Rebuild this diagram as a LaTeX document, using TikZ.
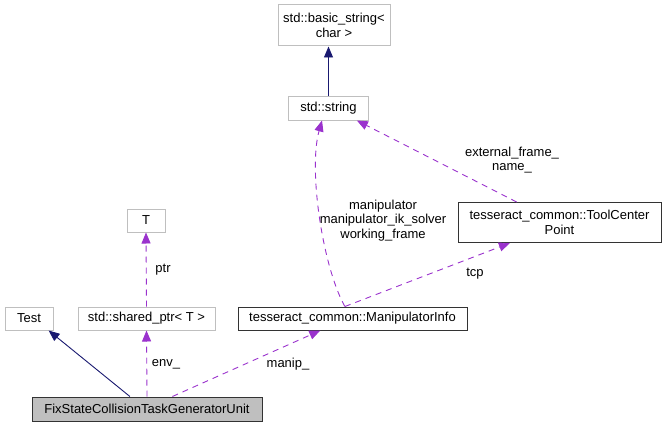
\documentclass[tikz,border=0pt]{standalone}
\usepackage{fontspec}
\setmainfont{Liberation Sans}
\usetikzlibrary{arrows.meta,calc}
\definecolor{edgenavy}{HTML}{191970}
\definecolor{edgeorchid}{HTML}{9A32CD}
\definecolor{boxgray}{HTML}{BFBFBF}
\tikzset{
  % class boxes, grey border when undocumented
  cls/.style  = {rectangle, draw=boxgray, line width=1pt, fill=white, align=center,
                 inner sep=0pt, font=\fontsize{13}{14.5}\selectfont},
  doc/.style  = {cls, draw=black!80},
  self/.style = {cls, draw=black!80, fill=boxgray},
  inh/.style  = {-{Triangle[length=11pt,width=9pt]}, edgenavy, line width=0.9pt},
  use/.style  = {-{Triangle[length=11pt,width=9pt]}, edgeorchid, line width=0.9pt,
                 dash pattern=on 6pt off 5pt},
  lbl/.style  = {font=\fontsize{13}{14.5}\selectfont, align=center, inner sep=0pt},
}
\begin{document}
\begin{tikzpicture}[x=1pt,y=1pt]
\useasboundingbox (0,0) rectangle (667,-428);
% nodes
\node[cls, minimum width=112, minimum height=41] (bstr) at (334,-25.5) {std::basic\_string<\\char >};
\node[cls, minimum width=80, minimum height=23] (str) at (328.5,-108.5) {std::string};
\node[cls, minimum width=38, minimum height=23] (T) at (146,-220.5) {T};
\node[cls, minimum width=48, minimum height=23] (test) at (29,-318.5) {Test};
\node[cls, minimum width=137, minimum height=23] (sptr) at (146.5,-318.5) {std::shared\_ptr< T >};
\node[doc, minimum width=229, minimum height=23] (minfo) at (352.5,-318.5) {tesseract\_common::ManipulatorInfo};
\node[doc, minimum width=203, minimum height=40] (tcp) at (559.5,-222.5) {tesseract\_common::ToolCenter\\Point};
\node[self, minimum width=230, minimum height=24] (fix) at (147,-409) {FixStateCollisionTaskGeneratorUnit};
% inheritance
\draw[inh] (str.north) -- (str.north |- bstr.south);
\draw[inh] ($(fix.north west)!0.426!(fix.north east)$) -- ($(test.south west)!0.9!(test.south east)$);
% usage
\draw[use] (sptr.north) -- (T.south);
\draw[use] (fix.north) -- (sptr.south);
\draw[use] ($(fix.north west)!0.61!(fix.north east)$) -- ($(minfo.south west)!0.36!(minfo.south east)$);
\draw[use] ($(minfo.north west)!0.467!(minfo.north east)$) .. controls (323,-268) and (308,-170) .. ($(str.south west)!0.42!(str.south east)$);
\draw[use] ($(minfo.north west)!0.467!(minfo.north east)$) -- ($(tcp.south west)!0.257!(tcp.south east)$);
\draw[use] ($(tcp.north west)!0.29!(tcp.north east)$) -- ($(str.south west)!0.85!(str.south east)$);
% labels
\node[lbl] (lptr) at (163,-270) {ptr};
\node[lbl] (lenv) at (166,-364) {env\_};
\node[lbl] (lmanip) at (288,-364) {manip\_};
\node[lbl] (lmembers) at (383,-220.5) {manipulator\\manipulator\_ik\_solver\\working\_frame};
\node[lbl] (lframe) at (512,-160) {external\_frame\_\\name\_};
\node[lbl] (ltcp) at (475,-274) {tcp};
\end{tikzpicture}
\end{document}
